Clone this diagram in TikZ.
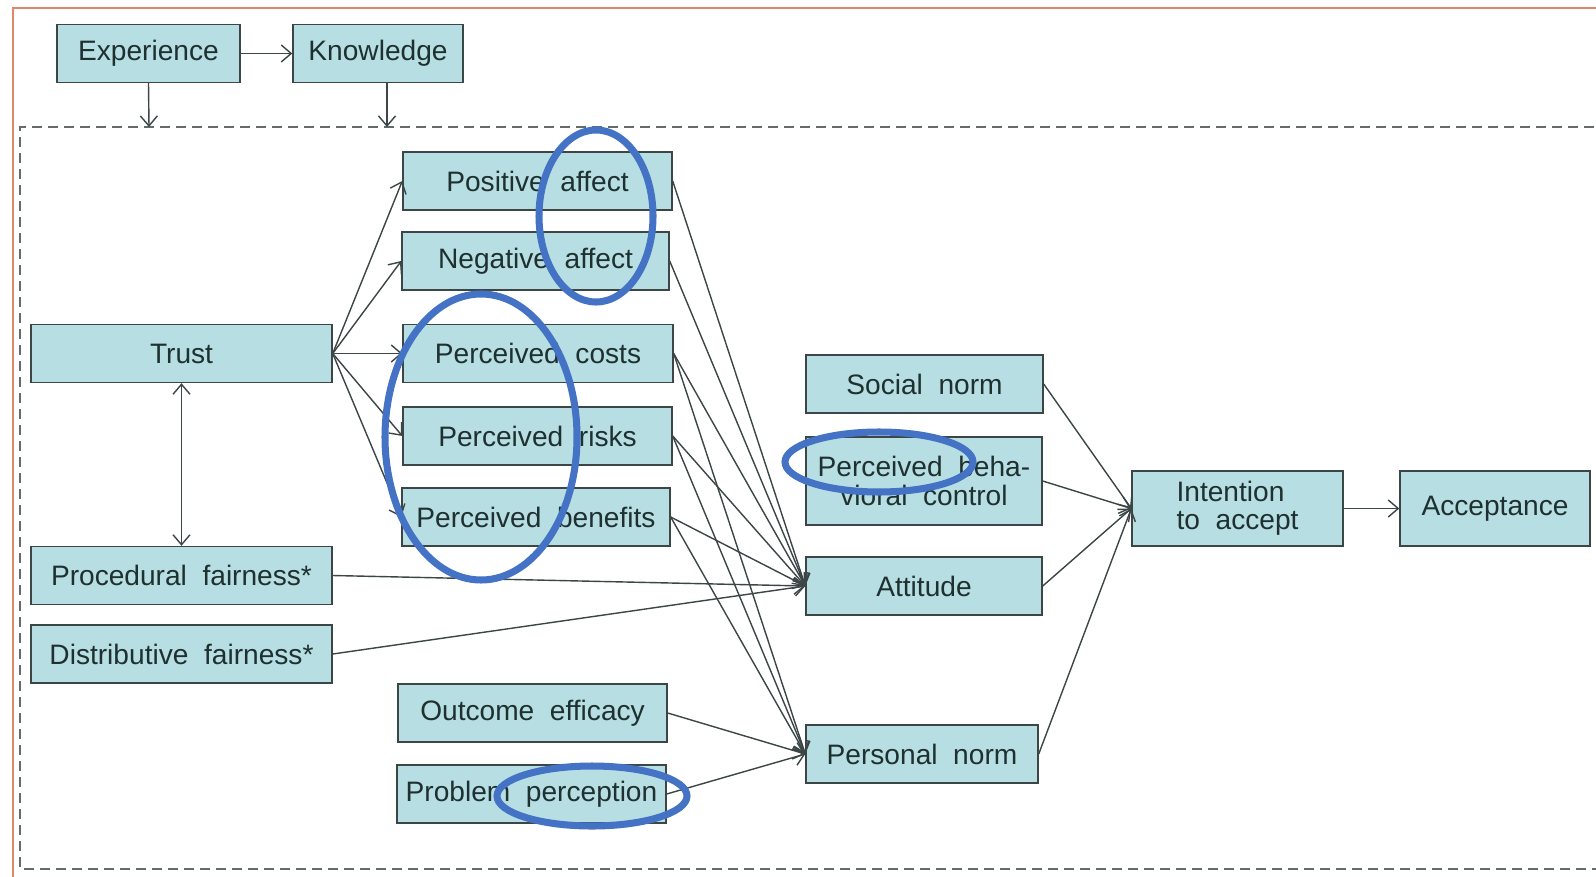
\documentclass[tikz,border=0pt]{standalone}
\usepackage{fontspec}
\setmainfont[WordSpace=2]{Liberation Sans}
\usepackage{xcolor}
\usetikzlibrary{arrows.meta}

\definecolor{boxfill}{HTML}{B7DEE2}
\definecolor{boxline}{HTML}{3C4646}
\definecolor{txt}{HTML}{1E3030}
\definecolor{frameline}{HTML}{E0866C}
\definecolor{mark}{HTML}{4472C4}

\tikzset{
    factor/.style={draw=boxline, fill=boxfill, line width=0.8pt, text=txt,
        font=\fontsize{16}{18}\selectfont, minimum height=11.6mm, inner sep=0pt},
    link/.style={draw=boxline, line width=0.8pt},
    highlight/.style={draw=mark, line width=4pt}
}

\begin{document}
\begin{tikzpicture}[x=0.2mm, y=-0.2mm, >={Straight Barb[length=2mm, width=3.4mm]}]
    \useasboundingbox (0,0) rectangle (1596,876);
    \fill[white] (0,0) rectangle (1596,876);
    \draw[frameline, line width=0.45mm] (13,890) -- (13,8) -- (1610,8);
    \draw[boxline!80, line width=0.3mm, dash pattern=on 2mm off 1.2mm] (1610,127) -- (20,127) -- (20,869) -- (1610,869);

    \node[factor, minimum width=36.6mm] (exper) at (148.5,53.5) {Experience};
    \node[factor, minimum width=34mm] (knowl) at (378,53.5) {Knowledge};

    \node[factor, minimum width=53.8mm] (posaff) at (537.5,181) {Positive affect};
    \node[factor, minimum width=53.4mm] (negaff) at (535.5,261) {Negative affect};
    \node[factor, minimum width=54mm] (costs) at (538,353.5) {Perceived costs};
    \node[factor, minimum width=53.8mm] (risks) at (537.5,436) {Perceived risks};
    \node[factor, minimum width=53.6mm] (benefits) at (536,517) {Perceived benefits};

    \node[factor, minimum width=60.2mm] (trust) at (181.5,353.5) {Trust};
    \node[factor, minimum width=60.2mm] (procfair) at (181.5,575.5) {Procedural fairness*};
    \node[factor, minimum width=60.2mm] (distfair) at (181.5,654) {Distributive fairness*};

    \node[factor, minimum width=53.8mm] (outeff) at (532.5,713) {Outcome efficacy};
    \node[factor, minimum width=53.8mm] (probper) at (531.5,794) {Problem perception};

    \node[factor, minimum width=47.4mm] (social) at (924.5,384) {Social norm};
    \node[factor, minimum width=47.2mm, minimum height=17.6mm, align=center] (pbc) at (924,481) {Perceived beha-\\[-2pt]vioral control};
    \node[factor, minimum width=47.2mm] (attitude) at (924,586) {Attitude};
    \node[factor, minimum width=46.4mm] (persnorm) at (922,754) {Personal norm};

    \node[factor, minimum width=42.2mm, minimum height=15mm, align=left] (intent) at (1237.5,508.5) {Intention\\[-2pt]to accept};
    \node[factor, minimum width=38mm, minimum height=15mm] (accept) at (1495,508.5) {Acceptance};

    \coordinate (expin) at (149,127);
    \coordinate (knowin) at (387,127);

    \draw[link, ->] (exper) -- (knowl);
    \draw[link, ->] (exper.south) -- (expin);
    \draw[link, ->] (knowl.south -| knowin) -- (knowin);

    \draw[link, ->] (trust.east) -- (posaff.west);
    \draw[link, ->] (trust.east) -- (negaff.west);
    \draw[link, ->] (trust.east) -- (costs.west);
    \draw[link, ->] (trust.east) -- (risks.west);
    \draw[link, ->] (trust.east) -- (benefits.west);
    \draw[link, <->] (trust) -- (procfair);

    \draw[link, ->] (posaff.east) -- (attitude.west);
    \draw[link, ->] (negaff.east) -- (attitude.west);
    \draw[link, ->] (costs.east) -- (attitude.west);
    \draw[link, ->] (risks.east) -- (attitude.west);
    \draw[link, ->] (benefits.east) -- (attitude.west);
    \draw[link, ->] (procfair.east) -- (attitude.west);
    \draw[link, ->] (distfair.east) -- (attitude.west);

    \draw[link, ->] (costs.east) -- (persnorm.west);
    \draw[link, ->] (risks.east) -- (persnorm.west);
    \draw[link, ->] (benefits.east) -- (persnorm.west);
    \draw[link, ->] (outeff.east) -- (persnorm.west);
    \draw[link, ->] (probper.east) -- (persnorm.west);

    \draw[link, ->] (social.east) -- (intent.west);
    \draw[link, ->] (pbc.east) -- (intent.west);
    \draw[link, ->] (attitude.east) -- (intent.west);
    \draw[link, ->] (persnorm.east) -- (intent.west);
    \draw[link, ->] (intent) -- (accept);

    % hand-drawn marks
    \draw[highlight] (596,216) ellipse [x radius=11.4mm, y radius=17.2mm];
    \draw[highlight] (481,437) ellipse [x radius=19.2mm, y radius=28.6mm];
    \draw[highlight] (879,462) ellipse [x radius=18.8mm, y radius=6mm];
    \draw[highlight] (592,796) ellipse [x radius=19mm, y radius=6mm];
\end{tikzpicture}
\end{document}
